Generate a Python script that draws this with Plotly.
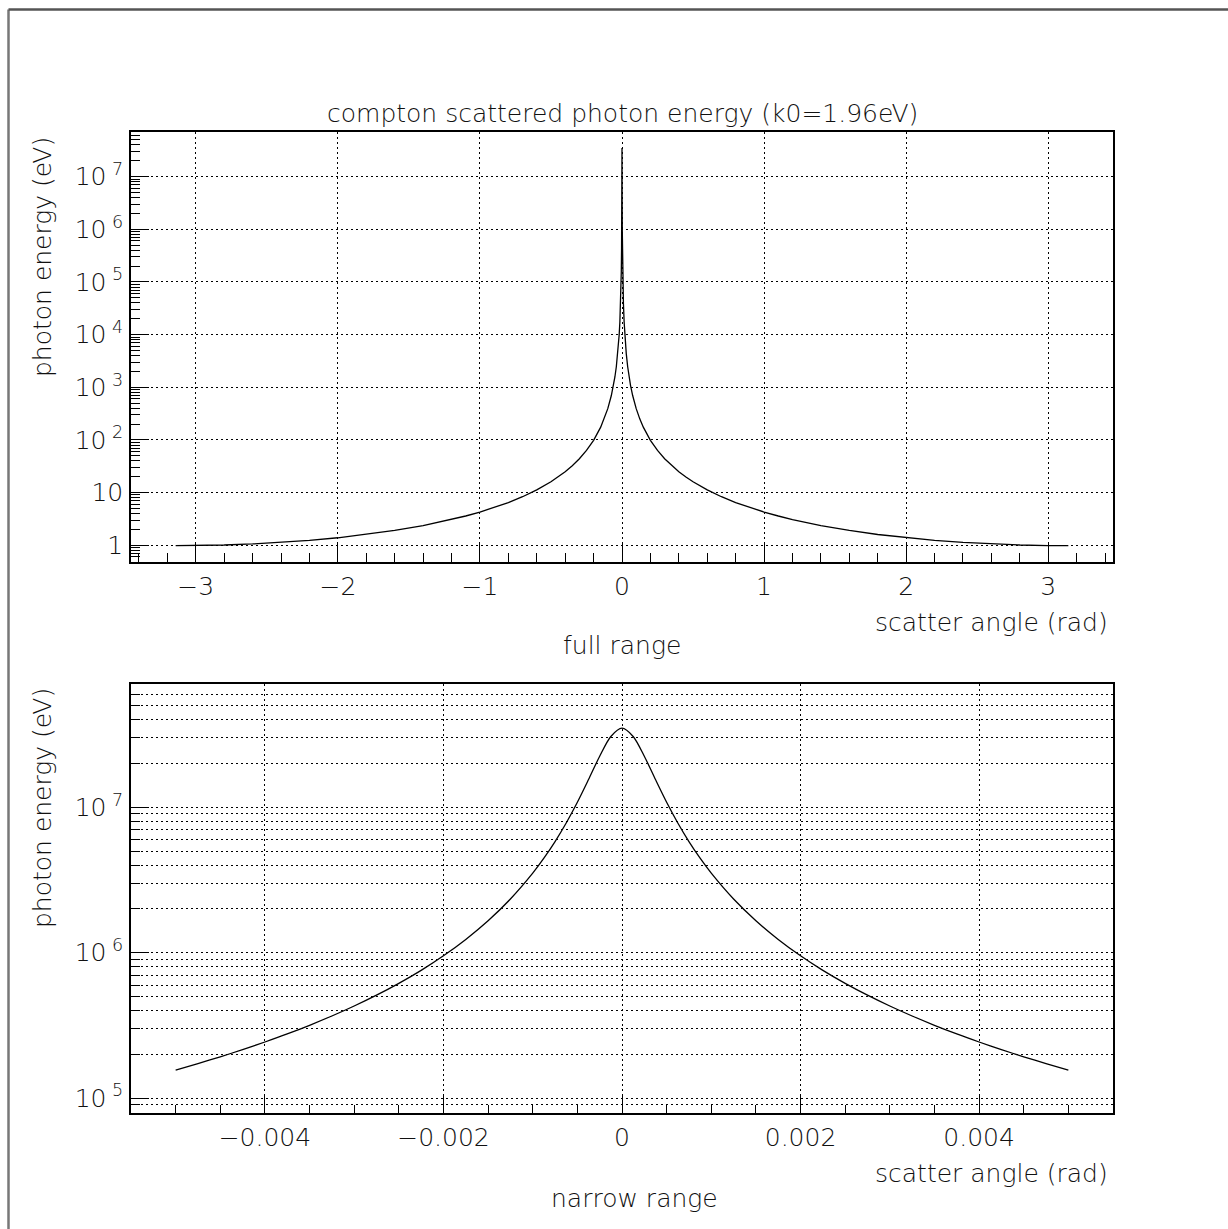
import plotly.graph_objects as go

# ---------------- data ----------------
full_angle = [-3.1416, -3.0, -2.8, -2.6, -2.4, -2.2, -2.0, -1.8, -1.6, -1.4, -1.2, -1.1,
              -1.0, -0.9, -0.8, -0.7, -0.6, -0.5, -0.45, -0.4, -0.35, -0.3, -0.25, -0.2,
              -0.15, -0.125, -0.1, -0.075, -0.06, -0.05, -0.04, -0.03, -0.02, -0.015, -0.01,
              -0.007, -0.005, -0.003, -0.002, -0.001, -0.0005, -0.0002, 0.0,
              0.0002, 0.0005, 0.001, 0.002, 0.003, 0.005, 0.007, 0.01, 0.015, 0.02, 0.03,
              0.04, 0.05, 0.06, 0.075, 0.1, 0.125, 0.15, 0.2, 0.25, 0.3, 0.35, 0.4, 0.45,
              0.5, 0.6, 0.7, 0.8, 0.9, 1.0, 1.1, 1.2, 1.4, 1.6, 1.8, 2.0, 2.2, 2.4, 2.6,
              2.8, 3.0, 3.1416]
full_energy = [0.98, 0.985, 1.009, 1.056, 1.128, 1.234, 1.384, 1.597, 1.904, 2.361, 3.074, 3.587,
               4.264, 5.180, 6.46, 8.335, 11.22, 16.01, 19.69, 24.83, 32.33, 43.9, 63.05, 98.3,
               174.5, 251.2, 392.3, 697.0, 1089.0, 1568.0, 2450.0, 4356.0, 9800.0, 17410.0, 3.92e4,
               7.98e4, 1.561e5, 4.30e5, 9.53e5, 3.53e6, 1.083e7, 2.58e7, 3.5e7,
               2.58e7, 1.083e7, 3.53e6, 9.53e5, 4.30e5, 1.561e5, 7.98e4, 3.92e4, 17410.0, 9800.0, 4356.0,
               2450.0, 1568.0, 1089.0, 697.0, 392.3, 251.2, 174.5, 98.3, 63.05, 43.9, 32.33, 24.83, 19.69,
               16.01, 11.22, 8.335, 6.46, 5.180, 4.264, 3.587, 3.074, 2.361, 1.904, 1.597, 1.384, 1.234, 1.128, 1.056,
               1.009, 0.985, 0.98]

narrow_angle = [-0.005, -0.00475, -0.0045, -0.00425, -0.004, -0.00375, -0.0035, -0.00325,
                -0.003, -0.00275, -0.0025, -0.00225, -0.002, -0.00175, -0.0015, -0.00125,
                -0.001, -0.000875, -0.00075, -0.000625, -0.0005, -0.000375, -0.00025, -0.000125,
                0.0,
                0.000125, 0.00025, 0.000375, 0.0005, 0.000625, 0.00075, 0.000875, 0.001,
                0.00125, 0.0015, 0.00175, 0.002, 0.00225, 0.0025, 0.00275, 0.003,
                0.00325, 0.0035, 0.00375, 0.004, 0.00425, 0.0045, 0.00475, 0.005]
narrow_energy = [1.561e5, 1.729e5, 1.925e5, 2.157e5, 2.433e5, 2.765e5, 3.171e5, 3.672e5,
                 4.301e5, 5.107e5, 6.16e5, 7.57e5, 9.53e5, 1.235e6, 1.66e6, 2.341e6,
                 3.525e6, 4.466e6, 5.81e6, 7.80e6, 1.083e7, 1.552e7, 2.246e7, 3.07e7,
                 3.5e7,
                 3.07e7, 2.246e7, 1.552e7, 1.083e7, 7.80e6, 5.81e6, 4.466e6, 3.525e6,
                 2.341e6, 1.66e6, 1.235e6, 9.53e5, 7.57e5, 6.16e5, 5.107e5, 4.301e5,
                 3.672e5, 3.171e5, 2.765e5, 2.433e5, 2.157e5, 1.925e5, 1.729e5, 1.561e5]

full_xticks = [-3, -2, -1, 0, 1, 2, 3]
full_xticktext = ["\u22123", "\u22122", "\u22121", "0", "1", "2", "3"]
full_yticks = [1, 10, 1e2, 1e3, 1e4, 1e5, 1e6, 1e7]
full_yticktext = ["1", "10", "10<sup> 2</sup>", "10<sup> 3</sup>", "10<sup> 4</sup>",
                  "10<sup> 5</sup>", "10<sup> 6</sup>", "10<sup> 7</sup>"]
narrow_xticks = [-0.004, -0.002, 0, 0.002, 0.004]
narrow_xticktext = ["\u22120.004", "\u22120.002", "0", "0.002", "0.004"]
narrow_yticks = [1e5, 1e6, 1e7]
narrow_yticktext = ["10<sup> 5</sup>", "10<sup> 6</sup>", "10<sup> 7</sup>"]

title_text = "compton scattered photon energy (k0=1.96eV)"
x_title = "scatter angle (rad)"
y_title = "photon energy (eV)"
top_label = "full range"
bottom_label = "narrow range"

# ---------------- layout geometry ----------------
W, H = 1228, 1229
L, R, T, B = 131, 1113, 132, 1113   # plot area in pixels


def px(x):
    return (x - L) / (R - L)


def py(y):
    return (B - y) / (B - T)


FONT = "'DejaVu Sans', sans-serif"
TXT = "#111111"
minor_log = [m * 10 ** e for e in range(-1, 8) for m in range(2, 10)]

fig = go.Figure()
fig.add_trace(go.Scatter(x=full_angle, y=full_energy, mode="lines",
                         line=dict(color="black", width=1.3), xaxis="x", yaxis="y",
                         showlegend=False))
fig.add_trace(go.Scatter(x=narrow_angle, y=narrow_energy, mode="lines",
                         line=dict(color="black", width=1.3, shape="spline", smoothing=0.8),
                         xaxis="x2", yaxis="y2", showlegend=False))

grid = dict(showgrid=True, gridcolor="black", gridwidth=1, griddash="2px,3px")
axcommon = dict(showline=True, linecolor="black", linewidth=1.6, mirror=True,
                ticks="inside", tickcolor="black", tickwidth=1, ticklen=18,
                zeroline=False, ticklabelstandoff=1,
                tickfont=dict(family=FONT, size=25, color=TXT, weight=200))

top_split = py(562)
bot_split = py(684)

fig.update_layout(
    width=W, height=H,
    margin=dict(l=L, r=W - R, t=T, b=H - B),
    paper_bgcolor="white", plot_bgcolor="white",
    showlegend=False,
    xaxis=dict(domain=[0, 1], anchor="y", range=[-3.456, 3.456], tickmode="array",
               tickvals=full_xticks, ticktext=full_xticktext,
               minor=dict(dtick=0.2, tick0=0, ticks="inside", ticklen=9, tickcolor="black",
                          showgrid=False),
               **grid, **axcommon),
    yaxis=dict(domain=[top_split, 1], anchor="x", type="log", range=[-0.319, 7.848],
               tickmode="array", tickvals=full_yticks, ticktext=full_yticktext,
               minor=dict(tickmode="array", tickvals=minor_log, ticks="inside", ticklen=9,
                          tickcolor="black", showgrid=False),
               **grid, **axcommon),
    xaxis2=dict(domain=[0, 1], anchor="y2", range=[-0.0055, 0.0055], tickmode="array",
                tickvals=narrow_xticks, ticktext=narrow_xticktext,
                minor=dict(dtick=0.0005, tick0=0, ticks="inside", ticklen=8, tickcolor="black",
                           showgrid=False),
                **grid, **axcommon),
    yaxis2=dict(domain=[0, bot_split], anchor="x2", type="log", range=[4.898, 7.848],
                tickmode="array", tickvals=narrow_yticks, ticktext=narrow_yticktext,
                minor=dict(tickmode="array", tickvals=minor_log, ticks="inside", ticklen=9,
                           tickcolor="black", showgrid=True, gridcolor="black",
                           gridwidth=1, griddash="2px,3px"),
                **grid, **axcommon),
)

tfont = dict(family=FONT, size=25, color=TXT, weight=200)
ann = [
    dict(text=title_text, x=px(622), y=py(113), xanchor="center", yanchor="middle"),
    dict(text=x_title, x=px(1110), y=py(622), xanchor="right", yanchor="middle"),
    dict(text=top_label, x=px(622), y=py(645), xanchor="center", yanchor="middle"),
    dict(text=x_title, x=px(1110), y=py(1173), xanchor="right", yanchor="middle"),
    dict(text=bottom_label, x=px(634), y=py(1198), xanchor="center", yanchor="middle"),
    dict(text=y_title, x=px(42), y=py(135), xanchor="center", yanchor="top", textangle=-90),
    dict(text=y_title, x=px(42), y=py(686), xanchor="center", yanchor="top", textangle=-90),
]
for a in ann:
    fig.add_annotation(xref="paper", yref="paper", showarrow=False, font=tfont, **a)

# outer canvas border (left and top edges)
fig.add_shape(type="line", xref="paper", yref="paper", x0=px(8.5), x1=px(8.5),
              y0=py(1235), y1=py(9.5), line=dict(color="#777777", width=2.5))
fig.add_shape(type="line", xref="paper", yref="paper", x0=px(8.5), x1=px(1235),
              y0=py(9.5), y1=py(9.5), line=dict(color="#555555", width=2.5))

fig.write_html("out.html", config={"displayModeBar": False},
               post_script="document.body.style.margin='0';document.body.style.overflow='hidden';")
